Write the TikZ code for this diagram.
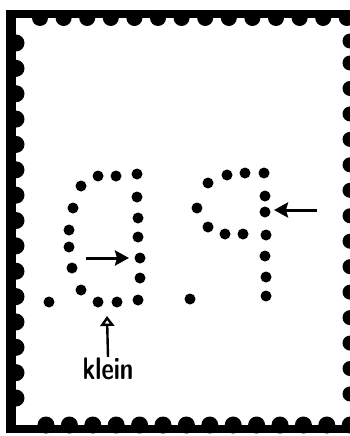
\documentclass[tikz,border=0pt]{standalone}
\usetikzlibrary{arrows.meta, positioning}

\tikzset{
  hole/.style={circle, fill=black, inner sep=0pt, minimum size=11pt},
  pointer/.style={-{Stealth[length=14pt, width=15pt, inset=2pt]}, line width=3pt},
}

\begin{document}
\begin{tikzpicture}[x=1pt, y=-1pt]
  \useasboundingbox (0,0) rectangle (350,436);

  % Stamp frame
  \fill[black] (6,10) rectangle (350,433);
  \fill[white] (16,18) rectangle (350,425);

  % Perforation teeth, top and bottom
  \foreach \i in {0,...,13} {
    \fill ({40+23.6*\i},18) circle (8);
    \fill ({46+23.4*\i},425) circle (8.5);
  }
  % Perforation teeth, left
  \foreach \i in {0,...,14}
    \fill (16,{43+25.36*\i}) circle (8.5);
  % Perforation holes, right edge
  \fill (350,41) circle (7.5);
  \foreach \i in {0,...,13}
    \fill (350,{63+25.46*\i}) circle (7.5);

  % Left letter with its point
  \foreach \x/\y [count=\n] in {98/176, 116/176, 137/174, 81/186, 137/197,
      73/208, 138/218, 69/230, 138/237, 69/247, 140/258, 72/268, 140/278,
      81/290, 98/302, 117/302, 138/300}
    \node[hole] (a\n) at (\x,\y) {};
  \node[hole] (pointA) at (49,302) {};

  % Right letter with its point
  \foreach \x/\y [count=\n] in {227/175, 245/173, 264/173, 208/183, 265/196,
      197/208, 265/212, 208/227, 225/234, 243/234, 266/235, 265/256,
      266/277, 266/296}
    \node[hole] (b\n) at (\x,\y) {};
  \node[hole] (pointB) at (190,299) {};

  % Arrows
  \coordinate (ltail) at (86,258);
  \coordinate (lhead) at (129,258);
  \draw[pointer] (ltail) -- (lhead);

  \coordinate (rtail) at (317,210);
  \coordinate (rhead) at (274,210);
  \draw[pointer] (rtail) -- (rhead);

  % Label for the small point
  \node[font=\sffamily\bfseries\fontsize{24}{26}\selectfont, inner sep=1pt] (klein) at (108,369)
    {\scalebox{1}[1.3]{klein}};
  \coordinate (uphead) at (107,316);
  \draw[-{Triangle[open, length=10pt, width=14pt]}, line width=2.4pt]
    (klein.north) -- (uphead);
\end{tikzpicture}
\end{document}
